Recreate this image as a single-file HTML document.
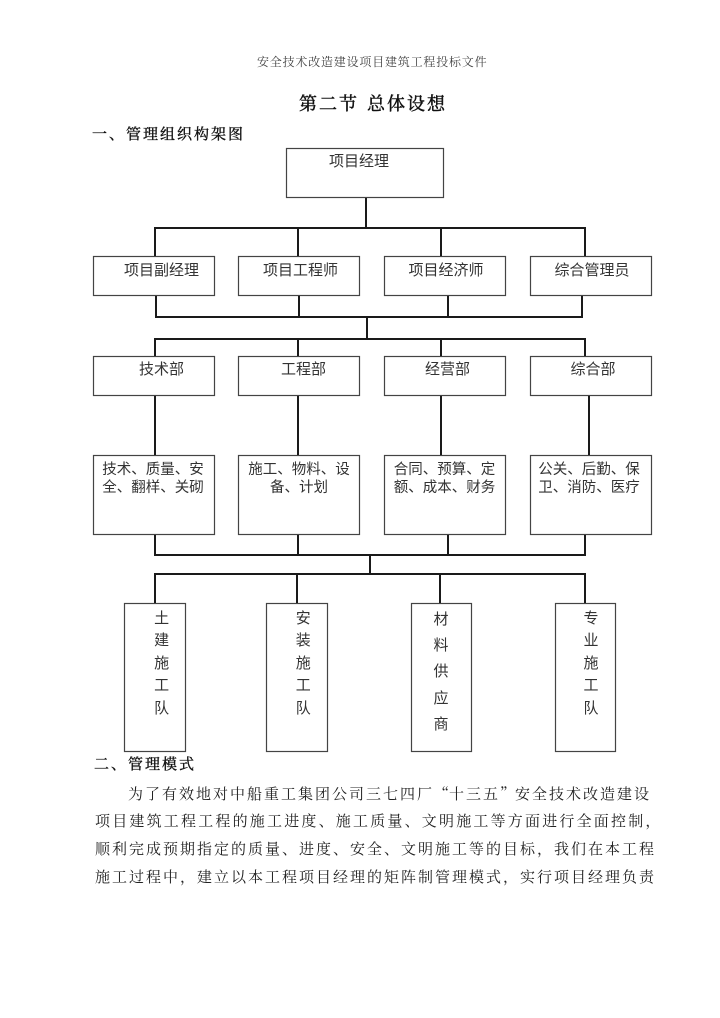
<!DOCTYPE html>
<html>
<head>
<meta charset="utf-8">
<style>
  html, body { margin:0; padding:0; background:#fff; }
  body { width:720px; height:1018px; position:relative; overflow:hidden; }
  .t { position:absolute; white-space:nowrap; }
  .serif { font-family:"Liberation Serif","Noto Serif CJK SC",serif; }
  .sans { font-family:"Liberation Sans","Noto Sans CJK SC",sans-serif; }
  .lbl { position:absolute; text-align:center; font-family:"Liberation Sans","Noto Sans CJK SC",sans-serif; color:#333; white-space:nowrap; }
  .vt { position:absolute; width:30px; text-align:center; font-family:"Liberation Sans","Noto Sans CJK SC",sans-serif; color:#333; font-size:15px; }
  .p { font-size:15px; letter-spacing:2px; color:#222; line-height:20px; }
  .q { display:inline-block; width:15px; font-family:"Noto Serif CJK SC",serif; }
  .semi { font-weight:normal; -webkit-text-stroke:0.45px #111; color:#111; }
  .semi2 { font-weight:normal; -webkit-text-stroke:0.35px #111; color:#111; }
</style>
</head>
<body>

<svg width="720" height="1018" style="position:absolute;left:0;top:0" xmlns="http://www.w3.org/2000/svg">
  <g fill="none" stroke="#444" stroke-width="1.2">
    <rect x="286.5" y="148.5" width="157" height="49"/>
    <rect x="93.5" y="256.5" width="121" height="39"/>
    <rect x="238.5" y="256.5" width="121" height="39"/>
    <rect x="384.5" y="256.5" width="121" height="39"/>
    <rect x="530.5" y="256.5" width="121" height="39"/>
    <rect x="93.5" y="356.5" width="121" height="39"/>
    <rect x="238.5" y="356.5" width="121" height="39"/>
    <rect x="384.5" y="356.5" width="121" height="39"/>
    <rect x="530.5" y="356.5" width="121" height="39"/>
    <rect x="93.5" y="455.5" width="121" height="79"/>
    <rect x="238.5" y="455.5" width="121" height="79"/>
    <rect x="384.5" y="455.5" width="121" height="79"/>
    <rect x="530.5" y="455.5" width="121" height="79"/>
    <rect x="124.5" y="603.5" width="61" height="148"/>
    <rect x="266.5" y="603.5" width="61" height="148"/>
    <rect x="411.5" y="603.5" width="60" height="148"/>
    <rect x="555.5" y="603.5" width="60" height="148"/>
  </g>
  <g fill="none" stroke="#1a1a1a" stroke-width="2">
    <path d="M366 198 V228"/>
    <path d="M154 228 H586"/>
    <path d="M155 228 V256 M298 228 V256 M441 228 V256 M585 228 V256"/>
    <path d="M156 296 V317 M299 296 V317 M448 296 V317 M582 296 V317"/>
    <path d="M155 317 H583"/>
    <path d="M367 317 V339"/>
    <path d="M154 339 H586"/>
    <path d="M155 339 V356 M298 339 V356 M441 339 V356 M585 339 V356"/>
    <path d="M155 396 V455 M298 396 V455 M441 396 V455 M589 396 V455"/>
    <path d="M155 535 V555 M298 535 V555 M448 535 V555 M585 535 V555"/>
    <path d="M154 555 H586"/>
    <path d="M370 555 V574"/>
    <path d="M154 574 H586"/>
    <path d="M155 574 V603 M297 574 V603 M440 574 V603 M585 574 V603"/>
  </g>
</svg>

<div class="t serif" style="left:257px;top:54px;font-size:12px;line-height:16px;letter-spacing:0.8px;color:#444;">安全技术改造建设项目建筑工程投标文件</div>

<div class="t serif semi" style="left:299px;top:92px;font-size:18px;line-height:24px;letter-spacing:2px;">第二节<span style="display:inline-block;width:8px"></span>总体设想</div>

<div class="t serif semi2" style="left:92px;top:125px;font-size:15px;line-height:20px;letter-spacing:2px;">一、管理组织构架图</div>

<div class="lbl" style="left:309px;top:152px;width:100px;font-size:15px;line-height:20px;">项目经理</div>

<div class="lbl" style="left:111.5px;top:261px;width:100px;font-size:15px;line-height:20px;">项目副经理</div>
<div class="lbl" style="left:250.5px;top:261px;width:100px;font-size:15px;line-height:20px;">项目工程师</div>
<div class="lbl" style="left:396px;top:261px;width:100px;font-size:15px;line-height:20px;">项目经济师</div>
<div class="lbl" style="left:542px;top:261px;width:100px;font-size:15px;line-height:20px;">综合管理员</div>

<div class="lbl" style="left:111.5px;top:360px;width:100px;font-size:15px;line-height:20px;">技术部</div>
<div class="lbl" style="left:253.5px;top:360px;width:100px;font-size:15px;line-height:20px;">工程部</div>
<div class="lbl" style="left:397.5px;top:360px;width:100px;font-size:15px;line-height:20px;">经营部</div>
<div class="lbl" style="left:543px;top:360px;width:100px;font-size:15px;line-height:20px;">综合部</div>

<div class="lbl" style="left:98px;top:461px;width:110px;font-size:14.5px;line-height:18px;">技术、质量、安<br>全、翻样、关砌</div>
<div class="lbl" style="left:244px;top:461px;width:110px;font-size:14.5px;line-height:18px;">施工、物料、设<br>备、计划</div>
<div class="lbl" style="left:389.5px;top:461px;width:110px;font-size:14.5px;line-height:18px;">合同、预算、定<br>额、成本、财务</div>
<div class="lbl" style="left:534px;top:461px;width:110px;font-size:14.5px;line-height:18px;">公关、后勤、保<br>卫、消防、医疗</div>

<div class="vt" style="left:146.7px;top:607.7px;line-height:22.6px;">土<br>建<br>施<br>工<br>队</div>
<div class="vt" style="left:288.3px;top:607.7px;line-height:22.6px;">安<br>装<br>施<br>工<br>队</div>
<div class="vt" style="left:426px;top:606.9px;line-height:26.3px;">材<br>料<br>供<br>应<br>商</div>
<div class="vt" style="left:576px;top:607.7px;line-height:22.6px;">专<br>业<br>施<br>工<br>队</div>

<div class="t serif semi2" style="left:94px;top:755px;font-size:15px;line-height:20px;letter-spacing:2px;">二、管理模式</div>

<div class="t serif p" style="left:128px;top:783.5px;">为了有效地对中船重工集团公司三七四厂<span class="q" style="text-align:right">“</span>十三五<span class="q" style="text-align:left">”</span>安全技术改造建设</div>
<div class="t serif p" style="left:95px;top:811.8px;letter-spacing:2.2px;">项目建筑工程工程的施工进度、施工质量、文明施工等方面进行全面控制，</div>
<div class="t serif p" style="left:95px;top:840px;">顺利完成预期指定的质量、进度、安全、文明施工等的目标，我们在本工程</div>
<div class="t serif p" style="left:95px;top:868.3px;">施工过程中，建立以本工程项目经理的矩阵制管理模式，实行项目经理负责</div>

</body>
</html>
